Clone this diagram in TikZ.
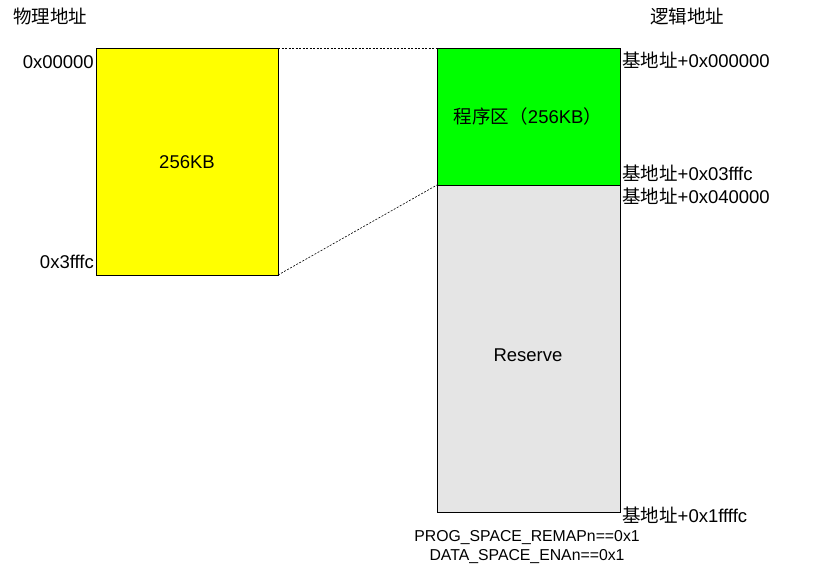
\documentclass[tikz,border=0pt]{standalone}
\usepackage{fontspec}
\setmainfont{Liberation Sans}
\newfontfamily\cjk{Noto Sans CJK SC}
\tikzset{
  membox/.style={draw=black, line width=0.8pt, inner sep=0pt, outer sep=0pt},
  addr/.style={inner sep=1pt, font=\fontsize{18.5}{21}\selectfont},
  note/.style={inner sep=0pt, font=\fontsize{15.8}{18}\selectfont},
  link/.style={dashed, line width=0.6pt, dash pattern=on 2pt off 1.5pt}
}
\begin{document}
\begin{tikzpicture}[x=1pt,y=-1pt]
\useasboundingbox (0,0) rectangle (823,571);
% 物理空间
\node[membox, fill={rgb,255:red,255;green,255;blue,0}, minimum width=182pt, minimum height=227pt] (phy) at (187,161.5) {};
\node[addr] (phylbl) at (187,162) {256KB};
% 逻辑空间
\node[membox, fill={rgb,255:red,0;green,255;blue,0}, minimum width=183pt, minimum height=137pt] (prog) at (528.5,116.5) {};
\node[membox, fill={rgb,255:red,229;green,229;blue,229}, minimum width=183pt, minimum height=327pt] (rsv) at (528.5,348.5) {};
\node[addr] (proglbl) at (528,116) {{\cjk 程序区（}256KB{\cjk ）}};
\node[addr] (rsvlbl) at (528,355) {Reserve};
% 映射虚线
\draw[link] (phy.north east) -- (prog.north west);
\draw[link] (phy.south east) -- (prog.south west);
% 标题
\node[addr, anchor=west] (phytitle) at (12,16) {\cjk 物理地址};
\node[addr, anchor=west] (logtitle) at (649,16) {\cjk 逻辑地址};
% 地址
\node[addr, anchor=east] (a0) at (95,62) {0x00000};
\node[addr, anchor=east] (a1) at (95,262) {0x3fffc};
\node[addr, anchor=west] (b0) at (621,60) {{\cjk 基地址}+0x000000};
\node[addr, anchor=west] (b1) at (621,173) {{\cjk 基地址}+0x03fffc};
\node[addr, anchor=west] (b2) at (621,196) {{\cjk 基地址}+0x040000};
\node[addr, anchor=west] (b3) at (621,515) {{\cjk 基地址}+0x1ffffc};
% 条件
\node[note] (cond1) at (527,538) {PROG\_SPACE\_REMAPn==0x1};
\node[note] (cond2) at (527,557) {DATA\_SPACE\_ENAn==0x1};
\end{tikzpicture}
\end{document}
